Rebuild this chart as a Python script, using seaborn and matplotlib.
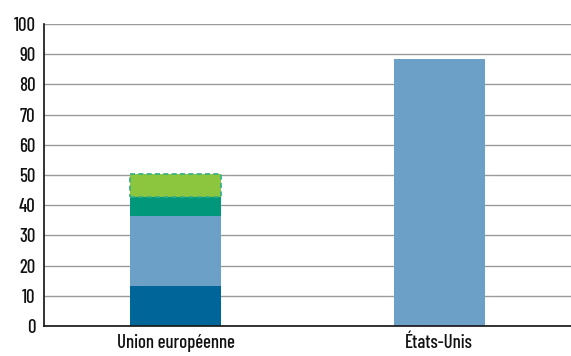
import matplotlib
matplotlib.use("Agg")
import matplotlib.pyplot as plt
import seaborn as sns
import pandas as pd
import numpy as np

categories = ["Union européenne", "États-Unis"]
seg1 = [13.3, 0.0]
seg2 = [23.1, 88.4]
seg3 = [6.2, 0.0]
seg4 = [7.6, 0.0]
yticks = [0, 10, 20, 30, 40, 50, 60, 70, 80, 90, 100]

sns.set_theme(style="white")
plt.rcParams['font.family'] = ['Barlow Condensed', 'Liberation Sans Narrow', 'DejaVu Sans']
plt.rcParams['font.weight'] = 'medium'

fig = plt.figure(figsize=(5.71, 3.56), dpi=100)
ax = fig.add_axes([44/571, 30/356, 1 - 44/571, 302/356])

segs = [seg1, seg2, seg3, seg4]
colors = ["#00669a", "#6ca0c6", "#00977a", "#8cc63f"]
bottom = np.zeros(len(categories))
for i, (s, c) in enumerate(zip(segs, colors)):
    df = pd.DataFrame({"cat": categories, "val": s, "bot": bottom.copy()})
    df = df[df["val"] > 0]
    kw = dict(edgecolor="none", linewidth=0)
    if i == 3:
        kw = dict(edgecolor="#2fae86", linewidth=1.2, linestyle=(0, (3, 2)))
    sns.barplot(data=df, x="cat", y="val", order=categories, color=c, saturation=1,
                width=0.345, bottom=df["bot"].values, ax=ax, **kw)
    bottom = bottom + np.array(s)

ax.set_ylim(0, 100)
ax.set_xlim(-0.5, 1.5)
ax.set_yticks(yticks)
ax.set_yticklabels([str(t) for t in yticks])
ax.set_xlabel("")
ax.set_ylabel("")
ax.yaxis.grid(True, color="#9a9a9a", linewidth=1)
ax.set_axisbelow(True)
for sp in ["top", "right"]:
    ax.spines[sp].set_visible(False)
ax.spines["left"].set_color("#1a1a1a")
ax.spines["bottom"].set_color("#1a1a1a")
ax.tick_params(axis="both", length=0, labelsize=13.5, colors="#111111")
ax.tick_params(axis="x", pad=6)
ax.tick_params(axis="y", pad=6)

fig.savefig("out.png", dpi=100)
